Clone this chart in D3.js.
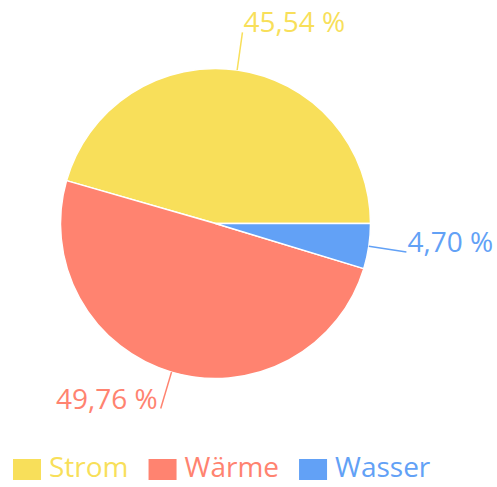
<!DOCTYPE html>
<meta charset="utf-8">
<style>
body { margin: 0; background: #fff; }
text { font-family: "Open Sans", sans-serif; }
</style>
<svg width="497" height="487"></svg>
<script src="https://cdn.jsdelivr.net/npm/d3@7"></script>
<script>

const categories = ["Strom", "Wärme", "Wasser"];
const values = [45.54, 49.76, 4.70];
const labels = ["45,54 %", "49,76 %", "4,70 %"];
const colours = ["#f8df5a", "#ff8370", "#62a1f6"];

const cx = 215.5, cy = 223.5, radius = 155;
const lineOuter = 193;
const fontSize = 28;

const svg = d3.select("svg");

// slices go clockwise from 3 o'clock: Wasser, Wärme, Strom
const order = [2, 1, 0];
const pie = d3.pie()
  .sort((a, b) => order.indexOf(a) - order.indexOf(b))
  .value(i => values[i])
  .startAngle(Math.PI / 2)
  .endAngle(Math.PI / 2 + 2 * Math.PI);

const arcs = pie(d3.range(values.length));
const arc = d3.arc().innerRadius(0).outerRadius(radius);

const g = svg.append("g").attr("transform", "translate(" + cx + "," + cy + ")");

g.selectAll("path.slice")
  .data(arcs)
  .enter().append("path")
  .attr("class", "slice")
  .attr("d", arc)
  .attr("fill", d => colours[d.data])
  .attr("stroke", "#fff")
  .attr("stroke-width", 1.5)
  .attr("stroke-linejoin", "round");

function pt(a, r) { return [r * Math.sin(a), -r * Math.cos(a)]; }

arcs.forEach(d => {
  const mid = (d.startAngle + d.endAngle) / 2;
  const p0 = pt(mid, radius), p1 = pt(mid, lineOuter);
  const right = p1[0] > 0;
  g.append("line")
    .attr("x1", p0[0]).attr("y1", p0[1])
    .attr("x2", p1[0]).attr("y2", p1[1])
    .attr("stroke", colours[d.data])
    .attr("stroke-width", 1.5);
  g.append("text")
    .attr("x", p1[0] + (right ? 1 : -3))
    .attr("y", p1[1])
    .attr("text-anchor", right ? "start" : "end")
    .attr("font-size", fontSize)
    .attr("fill", colours[d.data])
    .text(labels[d.data]);
});

// legend
const legend = svg.append("g");
let lx = 13;
categories.forEach((c, i) => {
  legend.append("rect")
    .attr("x", lx).attr("y", 459)
    .attr("width", 28).attr("height", 21)
    .attr("fill", colours[i]);
  const t = legend.append("text")
    .attr("x", lx + 36).attr("y", 477)
    .attr("font-size", fontSize)
    .attr("fill", colours[i])
    .text(c);
  lx += 36 + t.node().getComputedTextLength() + 20;
});
</script>
